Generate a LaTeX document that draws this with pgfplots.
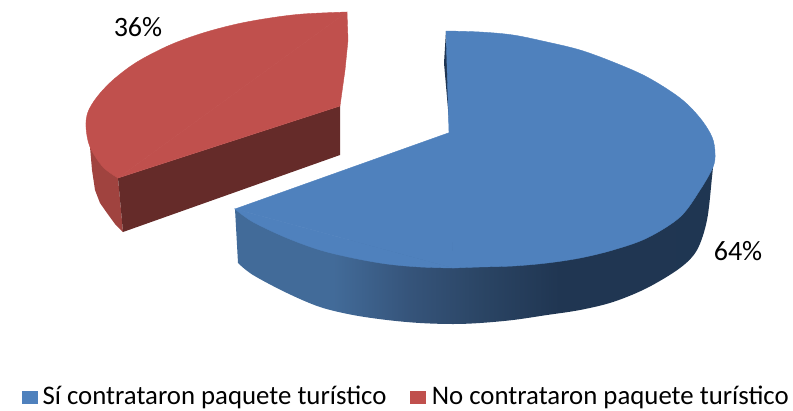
\documentclass[border=0pt]{standalone}
\usepackage{pgfplots}
\pgfplotsset{compat=1.18}
\usepackage{fontspec}
\setmainfont{Carlito}
\definecolor{pieblue}{HTML}{4F81BD}
\definecolor{piered}{HTML}{C0504D}
\definecolor{darkred}{HTML}{652B29}
\definecolor{sidered}{HTML}{A0433F}
\definecolor{navy}{HTML}{1F3552}
\definecolor{sideleft}{rgb}{0.26,0.42,0.60}
\pgfdeclarehorizontalshading{sideblueb}{100bp}{
 rgb(0bp)=(0.26,0.42,0.60);
 rgb(35bp)=(0.26,0.42,0.60);
 rgb(43bp)=(0.21,0.33,0.48);
 rgb(51bp)=(0.165,0.267,0.39);
 rgb(59bp)=(0.125,0.21,0.32);
 rgb(100bp)=(0.12,0.21,0.32)}
\begin{document}
\begin{tikzpicture}
\path[use as bounding box] (0pt,0pt) rectangle (793pt,410pt);
\begin{axis}[
  at={(0pt,0pt)}, anchor=south west,
  scale only axis, width=793pt, height=410pt,
  xmin=0, xmax=793, ymin=0, ymax=410, y dir=reverse,
  hide axis, clip=false,
  legend columns=2,
  legend style={draw=none, fill=none, at={(axis cs:22,395.5)}, anchor=west, font=\fontsize{26.8}{27}\selectfont,
    inner xsep=0pt, inner ysep=0pt,
    /tikz/column 1/.style={column sep=3pt},
    /tikz/column 2/.style={column sep=22pt},
    /tikz/column 3/.style={column sep=4pt}},
  legend image code/.code={\fill[#1] (0pt,-8pt) rectangle (15pt,4pt);},
]
% legend keys
\addlegendimage{pieblue}
\addlegendentry{Sí contrataron paquete turístico}
\addlegendimage{piered}
\addlegendentry{No contrataron paquete turístico}

% blue slice: side wall
\addplot[draw=none, shading=sideblueb, forget plot, smooth, tension=0.55] coordinates {
 (713,167) (712,177) (707,220) (697,250) (680,268) (647,288) (613,302) (580,310) (547,315) (513,320)
 (480,323) (453,324) (420,323) (387,320) (353,315) (320,307) (287,293) (253,275) (238,263)
} -- cycle;
\addplot[draw=none, fill=sideleft, forget plot] coordinates {
 (235,209) (238,263) (332,258) (332,240)
} -- cycle;
% blue slice: inner sliver
\addplot[draw=none, fill=navy, forget plot] coordinates {
 (446,31) (444,63) (450,132) (451,132)
} -- cycle;
% blue slice: top, outer arc on the right
\addplot[draw=pieblue, line width=0.4pt, fill=pieblue, forget plot, smooth, tension=0.55] coordinates {
 (446,31) (480,32) (513,35) (547,42) (580,50) (613,62) (647,77) (680,98) (700,118)
 (712,137) (715,153) (713,167) (700,190) (680,217) (647,238) (613,250) (580,258)
 (547,263) (513,266) (480,267) (453,268)
} -- cycle;
% blue slice: top, outer arc on the left
\addplot[draw=pieblue, line width=0.4pt, fill=pieblue, forget plot, smooth, tension=0.55] coordinates {
 (453,268) (420,267) (387,264) (353,258) (320,250) (287,238) (253,222) (235,209)
} -- cycle;
% blue slice: top, inner part
\addplot[draw=pieblue, line width=0.4pt, fill=pieblue, forget plot] coordinates {
 (235,209) (451,132) (453,268)
} -- cycle;
% red slice: outer wall
\addplot[draw=none, fill=sidered, forget plot] coordinates {
 (90,147) (92,170) (95,190) (100,203) (107,213) (115,224) (123,232) (118,178)
} -- cycle;
% red slice: cut wall
\addplot[draw=none, fill=darkred, forget plot] coordinates {
 (340,106) (340,155) (123,232) (118,178)
} -- cycle;
% red slice: top, outer arc
\addplot[draw=piered, line width=0.4pt, fill=piered, forget plot, smooth, tension=0.55] coordinates {
 (347,12) (303,14) (270,18) (237,24) (203,33) (170,45) (137,62) (113,80) (97,97)
 (88,112) (86,127) (90,147) (103,167) (118,178)
} -- cycle;
% red slice: top, inner part
\addplot[draw=piered, line width=0.4pt, fill=piered, forget plot] coordinates {
 (118,178) (340,106) (345,70) (348,40) (347,12)
} -- cycle;
\node[font=\fontsize{28}{28}\selectfont] at (axis cs:138,27) {36\%};
\node[font=\fontsize{28}{28}\selectfont] at (axis cs:738,251) {64\%};
\end{axis}
\end{tikzpicture}
\end{document}
